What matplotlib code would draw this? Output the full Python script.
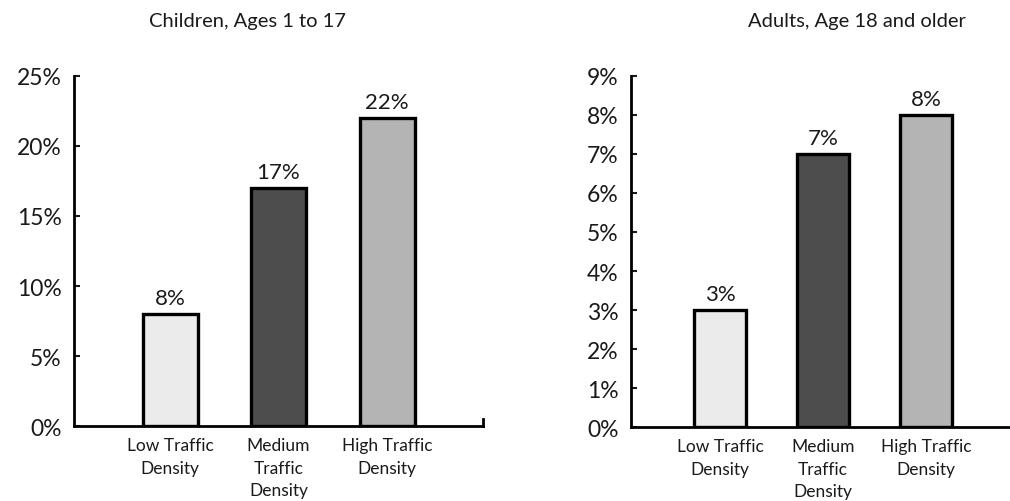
import matplotlib
matplotlib.use("Agg")
import matplotlib.pyplot as plt
from matplotlib.ticker import FuncFormatter

plt.rcParams['font.family'] = ['Lato', 'DejaVu Sans']

categories = ["Low Traffic\nDensity", "Medium\nTraffic\nDensity", "High Traffic\nDensity"]
children_values = [8, 17, 22]
adults_values = [3, 7, 8]
children_ticks = [0, 5, 10, 15, 20, 25]
adults_ticks = [0, 1, 2, 3, 4, 5, 6, 7, 8, 9]
titles = ["Children, Ages 1 to 17", "Adults, Age 18 and older"]

bar_colors = ["#ebebeb", "#4d4d4d", "#b4b4b4"]
text_color = "#1a1a1a"

fig = plt.figure(figsize=(10.10, 5.02), dpi=100)
ax1 = fig.add_axes([0.0733, 0.149, 0.405, 0.698])
ax2 = fig.add_axes([0.625, 0.147, 0.375, 0.700])


def draw_panel(ax, values, ticks, title, xlim, width, title_x):
    x = list(range(len(values)))
    ax.bar(x, values, width=width, color=bar_colors, edgecolor="black",
           linewidth=2.4, zorder=3)
    for xi, v in zip(x, values):
        ax.text(xi, v + ticks[-1] * 0.017, f"{v}%", ha="center", va="bottom",
                fontsize=16, color=text_color)
    ax.set_ylim(0, ticks[-1])
    ax.set_xlim(*xlim)
    ax.set_yticks(ticks)
    ax.yaxis.set_major_formatter(FuncFormatter(lambda v, p: f"{v:.0f}%"))
    ax.tick_params(axis="y", direction="in", length=4, width=1.5,
                   labelsize=16.5, pad=9, colors=text_color)
    ax.set_xticks(x)
    ax.set_xticklabels(categories, fontsize=12.5, linespacing=1.5)
    ax.tick_params(axis="x", length=0, pad=8, colors=text_color)
    for side in ("top", "right"):
        ax.spines[side].set_visible(False)
    for side in ("left", "bottom"):
        ax.spines[side].set_linewidth(2.0)
    fig.text(title_x, 0.958, title, ha="center", va="center", fontsize=14.5,
             color=text_color)


draw_panel(ax1, children_values, children_ticks, titles[0],
           (-0.885, 2.885), 0.507, 0.245)
draw_panel(ax2, adults_values, adults_ticks, titles[1],
           (-0.864, 2.816), 0.505, 0.848)

# small end tick on the right of the first baseline
ax1.plot([1, 1], [0, 0.02], transform=ax1.transAxes, color="black",
         linewidth=2.0, clip_on=False)

fig.savefig("out.png", dpi=100, facecolor="white")
